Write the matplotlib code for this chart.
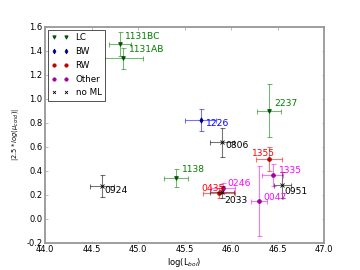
import matplotlib
matplotlib.use("Agg")
import matplotlib.pyplot as plt
from matplotlib.lines import Line2D

# source names, classes and measured values
names = ['1131BC', '1131AB', '1226', '2237', '0806', '1138', '0924',
         '1355', '1335', '0951', '0047', '0246', '0435', '2033']
classes = ['LC', 'LC', 'BW', 'LC', 'noML', 'LC', 'noML',
           'RW', 'Other', 'noML', 'Other', 'Other', 'RW', 'noML']
logL = [44.81, 44.835, 45.674, 46.409, 45.907, 45.409, 44.61,
        46.409, 46.448, 46.552, 46.301, 45.91, 45.874, 45.905]
mu = [1.456, 1.339, 0.825, 0.903, 0.639, 0.344, 0.275,
      0.497, 0.367, 0.283, 0.15, 0.256, 0.219, 0.225]
logL_err = [0.12, 0.22, 0.165, 0.13, 0.13, 0.13, 0.13,
            0.135, 0.11, 0.09, 0.09, 0.13, 0.17, 0.13]
mu_err = [0.1, 0.09, 0.09, 0.22, 0.12, 0.075, 0.09,
          0.1, 0.095, 0.11, 0.29, 0.04, 0.04, 0.05]

legend_order = ['LC', 'BW', 'RW', 'Other', 'noML']
legend_names = ['LC', 'BW', 'RW', 'Other', 'no ML']

# style per class: marker, marker colour, errorbar colour, text colour
style = {
    'LC': ('v', '#005000', 'green', 'green'),
    'BW': ('d', '#000090', 'blue', 'blue'),
    'RW': ('o', '#c00000', 'red', 'red'),
    'Other': ('o', '#a000a0', 'magenta', 'magenta'),
    'noML': ('x', 'black', 'black', 'black'),
}

# label placement (pixel offsets, alignment)
label_pos = {
    '1131BC': (5, 3, 'left', 'bottom'),
    '1131AB': (6, 4, 'left', 'bottom'),
    '1226': (5, 1, 'left', 'top'),
    '2237': (5, 3, 'left', 'bottom'),
    '0806': (3, 1, 'left', 'top'),
    '1138': (6, 4, 'left', 'bottom'),
    '0924': (3, 0, 'left', 'top'),
    '1355': (-6, 1, 'center', 'bottom'),
    '1335': (6, 0, 'left', 'bottom'),
    '0951': (2, -2, 'left', 'top'),
    '0047': (4, -1, 'left', 'bottom'),
    '0246': (5, 0, 'left', 'bottom'),
    '0435': (-6, 0, 'center', 'bottom'),
    '2033': (2, -4, 'left', 'top'),
}

fig = plt.figure(figsize=(6, 4.5), dpi=60)
ax = fig.add_axes([0.125, 0.1, 0.775, 0.8])

for i, name in enumerate(names):
    mk, mc, ec, tc = style[classes[i]]
    ax.errorbar(logL[i], mu[i], xerr=logL_err[i], yerr=mu_err[i], fmt='none',
                ecolor=ec, alpha=0.55, capsize=3, elinewidth=1.3, capthick=1.3)
    ax.plot(logL[i], mu[i], mk, color=mc, markersize=4.5,
            markeredgecolor=mc, markeredgewidth=1.0)
    dx, dy, ha, va = label_pos[name]
    ax.annotate(name, (logL[i], mu[i]), xytext=(dx, dy), textcoords='offset pixels',
                ha=ha, va=va, color=tc, fontsize=11)

handles = []
for c, lab in zip(legend_order, legend_names):
    mk, mc, ec, tc = style[c]
    ms = 3.5 if c == 'noML' else 4
    handles.append(Line2D([], [], linestyle='none', marker=mk, color=mc,
                          markeredgecolor=mc, markersize=ms, label=lab))
leg = ax.legend(handles=handles, loc='upper left', numpoints=2, fontsize=10.5,
                fancybox=False, framealpha=1, borderaxespad=0.3,
                handlelength=2.0, labelspacing=0.55, borderpad=0.4)
leg.get_frame().set_edgecolor('black')
leg.get_frame().set_linewidth(0.8)

ax.set_xlim(44.0, 47.0)
ax.set_ylim(-0.2, 1.6)
ax.set_xticks([44.0, 44.5, 45.0, 45.5, 46.0, 46.5, 47.0])
ax.set_yticks([-0.2, 0.0, 0.2, 0.4, 0.6, 0.8, 1.0, 1.2, 1.4, 1.6])
ax.xaxis.set_major_formatter(matplotlib.ticker.FormatStrFormatter('%.1f'))
ax.yaxis.set_major_formatter(matplotlib.ticker.FormatStrFormatter('%.1f'))
ax.tick_params(direction='in', top=True, right=True, length=3, width=0.8,
               color='#999999', labelsize=10, pad=3)
for sp in ax.spines.values():
    sp.set_color('#999999')
    sp.set_linewidth(2.2)

ax.set_xlabel(r'log(L$_{bol}$)', fontsize=10, labelpad=2)
ax.set_ylabel(r'$|2.5*log(\mu_{cond})|$', fontsize=8, labelpad=6)

fig.savefig('out.png', dpi=60)
